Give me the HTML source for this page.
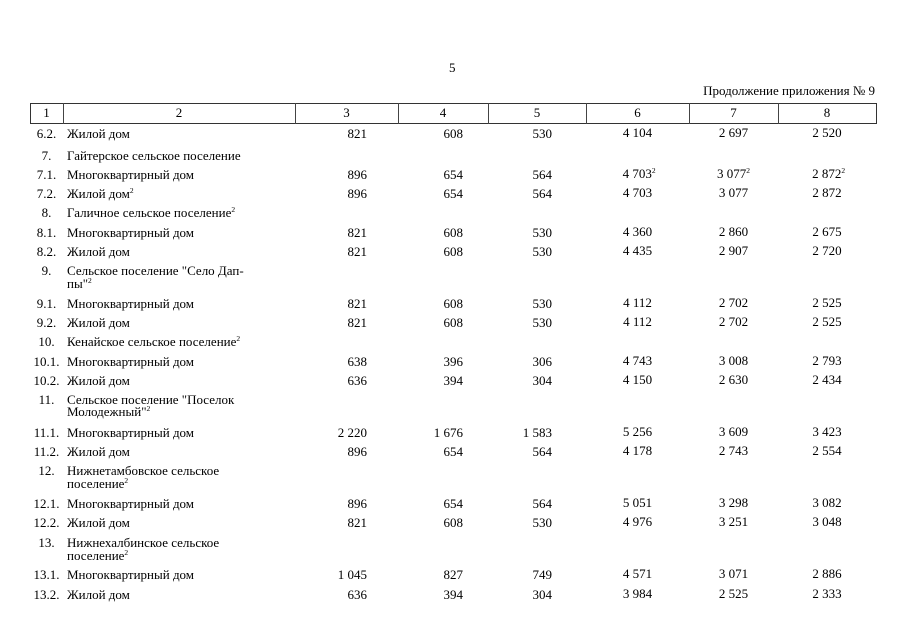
<!DOCTYPE html>
<html>
<head>
<meta charset="utf-8">
<style>
html,body{margin:0;padding:0;background:#fff;}
body{width:905px;height:640px;position:relative;overflow:hidden;font-family:"Liberation Serif","DejaVu Serif",serif;color:#000;}
.t{position:absolute;white-space:nowrap;font-size:13px;line-height:16px;height:16px;}
.i{left:30px;width:33px;text-align:center;}
.n{left:67px;}
.c3{left:295px;width:72px;text-align:right;}
.c4{left:398px;width:65px;text-align:right;}
.c5{left:488px;width:64px;text-align:right;}
.c6{left:586px;width:103px;text-align:center;margin-top:-1.5px;}
.c7{left:689px;width:89px;text-align:center;margin-top:-1.5px;}
.c8{left:778px;width:98px;text-align:center;margin-top:-1.5px;}
sup{font-size:7.5px;vertical-align:5px;line-height:0;}
.box{position:absolute;left:30px;top:103px;width:845px;height:19px;border:1px solid #333;}
.v{position:absolute;top:103px;width:1px;height:21px;background:#444;}
.h{position:absolute;top:105px;text-align:center;font-size:13px;line-height:16px;}
</style>
</head>
<body>
<div class="t" style="left:449px;top:60px;">5</div>
<div class="t" style="left:600px;width:275px;text-align:right;top:83px;">Продолжение приложения № 9</div>

<div class="box"></div>
<div class="v" style="left:63px"></div>
<div class="v" style="left:295px"></div>
<div class="v" style="left:398px"></div>
<div class="v" style="left:488px"></div>
<div class="v" style="left:586px"></div>
<div class="v" style="left:689px"></div>
<div class="v" style="left:778px"></div>
<div class="h" style="left:30px;width:33px">1</div>
<div class="h" style="left:63px;width:232px">2</div>
<div class="h" style="left:295px;width:103px">3</div>
<div class="h" style="left:398px;width:90px">4</div>
<div class="h" style="left:488px;width:98px">5</div>
<div class="h" style="left:586px;width:103px">6</div>
<div class="h" style="left:689px;width:89px">7</div>
<div class="h" style="left:778px;width:98px">8</div>

<!-- 6.2 -->
<div class="t i" style="top:126px">6.2.</div><div class="t n" style="top:126px">Жилой дом</div>
<div class="t c3" style="top:126px">821</div><div class="t c4" style="top:126px">608</div><div class="t c5" style="top:126px">530</div>
<div class="t c6" style="top:126px">4 104</div><div class="t c7" style="top:126px">2 697</div><div class="t c8" style="top:126px">2 520</div>
<!-- 7 -->
<div class="t i" style="top:148px">7.</div><div class="t n" style="top:148px">Гайтерское сельское поселение</div>
<!-- 7.1 -->
<div class="t i" style="top:167px">7.1.</div><div class="t n" style="top:167px">Многоквартирный дом</div>
<div class="t c3" style="top:167px">896</div><div class="t c4" style="top:167px">654</div><div class="t c5" style="top:167px">564</div>
<div class="t c6" style="top:167px">&nbsp;4 703<sup>2</sup></div><div class="t c7" style="top:167px">3 077<sup>2</sup></div><div class="t c8" style="top:167px">&nbsp;2 872<sup>2</sup></div>
<!-- 7.2 -->
<div class="t i" style="top:186px">7.2.</div><div class="t n" style="top:186px">Жилой дом<sup>2</sup></div>
<div class="t c3" style="top:186px">896</div><div class="t c4" style="top:186px">654</div><div class="t c5" style="top:186px">564</div>
<div class="t c6" style="top:186px">4 703</div><div class="t c7" style="top:186px">3 077</div><div class="t c8" style="top:186px">2 872</div>
<!-- 8 -->
<div class="t i" style="top:205px">8.</div><div class="t n" style="top:205px">Галичное сельское поселение<sup>2</sup></div>
<!-- 8.1 -->
<div class="t i" style="top:225px">8.1.</div><div class="t n" style="top:225px">Многоквартирный дом</div>
<div class="t c3" style="top:225px">821</div><div class="t c4" style="top:225px">608</div><div class="t c5" style="top:225px">530</div>
<div class="t c6" style="top:225px">4 360</div><div class="t c7" style="top:225px">2 860</div><div class="t c8" style="top:225px">2 675</div>
<!-- 8.2 -->
<div class="t i" style="top:244px">8.2.</div><div class="t n" style="top:244px">Жилой дом</div>
<div class="t c3" style="top:244px">821</div><div class="t c4" style="top:244px">608</div><div class="t c5" style="top:244px">530</div>
<div class="t c6" style="top:244px">4 435</div><div class="t c7" style="top:244px">2 907</div><div class="t c8" style="top:244px">2 720</div>
<!-- 9 -->
<div class="t i" style="top:263px">9.</div><div class="t n" style="top:263px">Сельское поселение "Село Дап-</div>
<div class="t n" style="top:276px">пы"<sup>2</sup></div>
<!-- 9.1 -->
<div class="t i" style="top:296px">9.1.</div><div class="t n" style="top:296px">Многоквартирный дом</div>
<div class="t c3" style="top:296px">821</div><div class="t c4" style="top:296px">608</div><div class="t c5" style="top:296px">530</div>
<div class="t c6" style="top:296px">4 112</div><div class="t c7" style="top:296px">2 702</div><div class="t c8" style="top:296px">2 525</div>
<!-- 9.2 -->
<div class="t i" style="top:315px">9.2.</div><div class="t n" style="top:315px">Жилой дом</div>
<div class="t c3" style="top:315px">821</div><div class="t c4" style="top:315px">608</div><div class="t c5" style="top:315px">530</div>
<div class="t c6" style="top:315px">4 112</div><div class="t c7" style="top:315px">2 702</div><div class="t c8" style="top:315px">2 525</div>
<!-- 10 -->
<div class="t i" style="top:334px">10.</div><div class="t n" style="top:334px">Кенайское сельское поселение<sup>2</sup></div>
<!-- 10.1 -->
<div class="t i" style="top:354px">10.1.</div><div class="t n" style="top:354px">Многоквартирный дом</div>
<div class="t c3" style="top:354px">638</div><div class="t c4" style="top:354px">396</div><div class="t c5" style="top:354px">306</div>
<div class="t c6" style="top:354px">4 743</div><div class="t c7" style="top:354px">3 008</div><div class="t c8" style="top:354px">2 793</div>
<!-- 10.2 -->
<div class="t i" style="top:373px">10.2.</div><div class="t n" style="top:373px">Жилой дом</div>
<div class="t c3" style="top:373px">636</div><div class="t c4" style="top:373px">394</div><div class="t c5" style="top:373px">304</div>
<div class="t c6" style="top:373px">4 150</div><div class="t c7" style="top:373px">2 630</div><div class="t c8" style="top:373px">2 434</div>
<!-- 11 -->
<div class="t i" style="top:392px">11.</div><div class="t n" style="top:392px">Сельское поселение "Поселок</div>
<div class="t n" style="top:404px">Молодежный"<sup>2</sup></div>
<!-- 11.1 -->
<div class="t i" style="top:425px">11.1.</div><div class="t n" style="top:425px">Многоквартирный дом</div>
<div class="t c3" style="top:425px">2 220</div><div class="t c4" style="top:425px">1 676</div><div class="t c5" style="top:425px">1 583</div>
<div class="t c6" style="top:425px">5 256</div><div class="t c7" style="top:425px">3 609</div><div class="t c8" style="top:425px">3 423</div>
<!-- 11.2 -->
<div class="t i" style="top:444px">11.2.</div><div class="t n" style="top:444px">Жилой дом</div>
<div class="t c3" style="top:444px">896</div><div class="t c4" style="top:444px">654</div><div class="t c5" style="top:444px">564</div>
<div class="t c6" style="top:444px">4 178</div><div class="t c7" style="top:444px">2 743</div><div class="t c8" style="top:444px">2 554</div>
<!-- 12 -->
<div class="t i" style="top:463px">12.</div><div class="t n" style="top:463px">Нижнетамбовское сельское</div>
<div class="t n" style="top:476px">поселение<sup>2</sup></div>
<!-- 12.1 -->
<div class="t i" style="top:496px">12.1.</div><div class="t n" style="top:496px">Многоквартирный дом</div>
<div class="t c3" style="top:496px">896</div><div class="t c4" style="top:496px">654</div><div class="t c5" style="top:496px">564</div>
<div class="t c6" style="top:496px">5 051</div><div class="t c7" style="top:496px">3 298</div><div class="t c8" style="top:496px">3 082</div>
<!-- 12.2 -->
<div class="t i" style="top:515px">12.2.</div><div class="t n" style="top:515px">Жилой дом</div>
<div class="t c3" style="top:515px">821</div><div class="t c4" style="top:515px">608</div><div class="t c5" style="top:515px">530</div>
<div class="t c6" style="top:515px">4 976</div><div class="t c7" style="top:515px">3 251</div><div class="t c8" style="top:515px">3 048</div>
<!-- 13 -->
<div class="t i" style="top:535px">13.</div><div class="t n" style="top:535px">Нижнехалбинское сельское</div>
<div class="t n" style="top:548px">поселение<sup>2</sup></div>
<!-- 13.1 -->
<div class="t i" style="top:567px">13.1.</div><div class="t n" style="top:567px">Многоквартирный дом</div>
<div class="t c3" style="top:567px">1 045</div><div class="t c4" style="top:567px">827</div><div class="t c5" style="top:567px">749</div>
<div class="t c6" style="top:567px">4 571</div><div class="t c7" style="top:567px">3 071</div><div class="t c8" style="top:567px">2 886</div>
<!-- 13.2 -->
<div class="t i" style="top:587px">13.2.</div><div class="t n" style="top:587px">Жилой дом</div>
<div class="t c3" style="top:587px">636</div><div class="t c4" style="top:587px">394</div><div class="t c5" style="top:587px">304</div>
<div class="t c6" style="top:587px">3 984</div><div class="t c7" style="top:587px">2 525</div><div class="t c8" style="top:587px">2 333</div>
</body>
</html>
